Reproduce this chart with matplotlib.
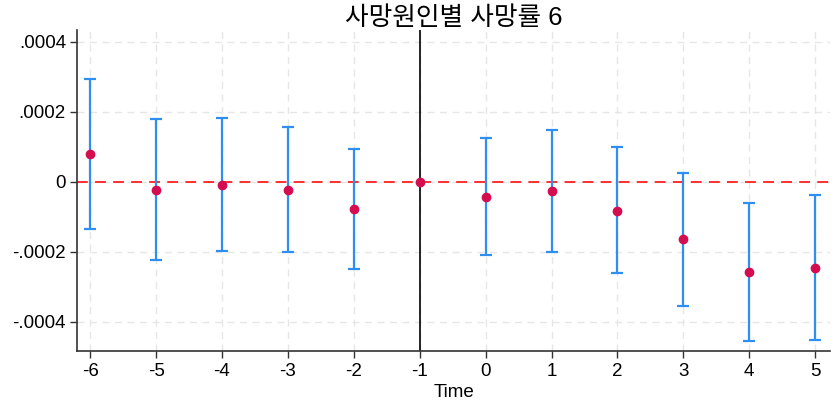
import matplotlib
matplotlib.use("Agg")
import matplotlib.pyplot as plt

plt.rcParams['font.family'] = ['Liberation Sans', 'Noto Sans CJK KR', 'DejaVu Sans']

# event time, point estimate and 95% CI
time = [-6, -5, -4, -3, -2, -1, 0, 1, 2, 3, 4, 5]
coef = [0.0000802, -0.000022, -0.0000085, -0.000024, -0.000078, 0.0,
        -0.000044, -0.000027, -0.000082, -0.000164, -0.000258, -0.000245]
ci_hi = [0.000293, 0.00018, 0.000182, 0.000157, 0.000095, 0.0,
         0.000125, 0.000147, 0.000099, 0.000025, -0.000061, -0.000039]
ci_lo = [-0.000135, -0.000223, -0.000197, -0.000201, -0.000248, 0.0,
         -0.00021, -0.0002, -0.00026, -0.000354, -0.000454, -0.000451]

ytick_vals = [-0.0004, -0.0002, 0, 0.0002, 0.0004]
ytick_labels = ["-.0004", "-.0002", "0", ".0002", ".0004"]

fig = plt.figure(figsize=(8.37, 4.09), dpi=100)
ax = fig.add_axes([0.092, 0.142, 0.9, 0.785])

# no CI bar for the reference period
t_ci = [t for t in time if t != -1]
lo = [c - l for t, c, l in zip(time, coef, ci_lo) if t != -1]
hi = [h - c for t, c, h in zip(time, coef, ci_hi) if t != -1]
c_ci = [c for t, c in zip(time, coef) if t != -1]
ax.errorbar(t_ci, c_ci, yerr=[lo, hi], fmt='none', ecolor='#2f8ff0',
            elinewidth=1.6, capsize=4, capthick=1.6, zorder=3)

ax.axhline(0, color='#ff2020', linestyle=(0, (6, 4)), linewidth=1.3, zorder=2)
ax.axvline(-1, color='black', linewidth=1.2, zorder=2)
ax.scatter(time, coef, s=36, color='#d40c50', zorder=4)

ax.set_xlim(-6.2, 5.23)
ax.set_ylim(-0.000483, 0.000434)
ax.set_xticks(time)
ax.set_xticklabels([str(t) for t in time])
ax.set_yticks(ytick_vals)
ax.set_yticklabels(ytick_labels)
ax.tick_params(labelsize=13.5, length=5, width=1, color='#333333', direction='out')
ax.tick_params(axis='y', pad=3)
ax.grid(True, color='#e6e6e6', linestyle=(0, (5, 4)), linewidth=1)
ax.set_axisbelow(True)
for s in ['top', 'right']:
    ax.spines[s].set_visible(False)
for s in ['left', 'bottom']:
    ax.spines[s].set_color('#333333')
    ax.spines[s].set_linewidth(1.2)

ax.set_xlabel("Time", fontsize=13.5, labelpad=3)
# title sits just above the plot area
fig.text(0.542, 1 - 18 / 409, "사망원인별 사망률 6", fontsize=18.5,
         ha='center', va='center')

fig.savefig("out.png", dpi=100)
